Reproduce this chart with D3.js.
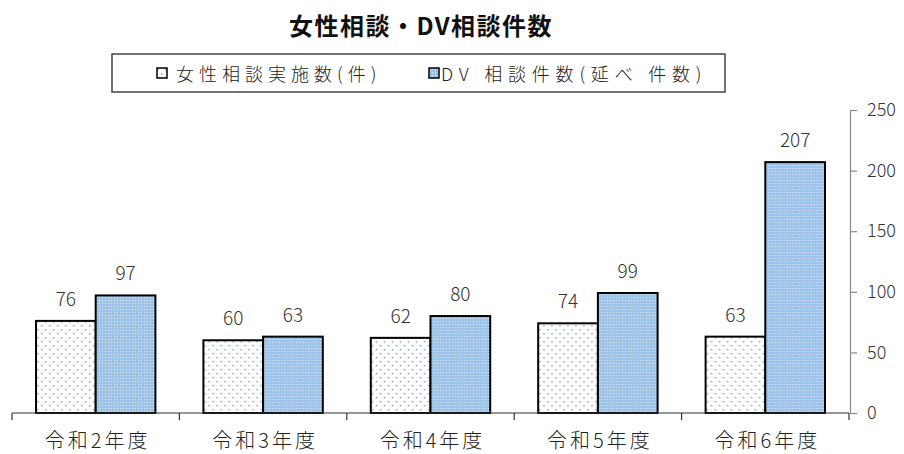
<!DOCTYPE html>
<html lang="ja">
<head>
<meta charset="utf-8" />
<title>女性相談・DV相談件数</title>
<script src="https://cdn.jsdelivr.net/npm/d3@7"></script>
<style>
  body { margin: 0; background: #fff; }
  text { font-family: "Noto Sans CJK JP", "Noto Sans", sans-serif; font-weight: 300; }
</style>
</head>
<body>
<div id="chart"></div>
<script type="text/javascript">
// data
var categories = ["令和2年度", "令和3年度", "令和4年度", "令和5年度", "令和6年度"];
var seriesNames = ["女性相談実施数(件)", "DV 相談件数(延べ 件数)"];
var womenCounts = [76, 60, 62, 74, 63];
var dvCounts = [97, 63, 80, 99, 207];
var yTicks = [0, 50, 100, 150, 200, 250];

var W = 904, H = 454;
var svg = d3.select("#chart").append("svg")
    .attr("width", W)
    .attr("height", H);

// fill patterns
var defs = svg.append("defs");
var p1 = defs.append("pattern")
    .attr("id", "dotsWhite")
    .attr("patternUnits", "userSpaceOnUse")
    .attr("width", 8).attr("height", 8);
p1.append("rect").attr("width", 8).attr("height", 8).attr("fill", "#ffffff");
p1.append("rect").attr("x", 1).attr("y", 1).attr("width", 1.5).attr("height", 1.5).attr("fill", "#7fa8d8");
p1.append("rect").attr("x", 5).attr("y", 5).attr("width", 1.5).attr("height", 1.5).attr("fill", "#7fa8d8");

var p2 = defs.append("pattern")
    .attr("id", "dotsBlue")
    .attr("patternUnits", "userSpaceOnUse")
    .attr("width", 3).attr("height", 3);
p2.append("rect").attr("width", 3).attr("height", 3).attr("fill", "#9ec3ea");
p2.append("rect").attr("x", 0).attr("y", 0).attr("width", 1).attr("height", 1).attr("fill", "#e6f0fb");

var fills = ["url(#dotsWhite)", "url(#dotsBlue)"];

// scales
var x = d3.scaleBand()
    .domain(categories)
    .range([12, 849])
    .paddingInner(0)
    .paddingOuter(0);

var xSub = d3.scaleBand()
    .domain([0, 1])
    .range([24, x.bandwidth() - 24]);

var y = d3.scaleLinear()
    .domain([0, 250])
    .range([413, 110]);

// title (style beats the css weight)
svg.append("text")
    .attr("x", 421)
    .attr("y", 35)
    .attr("text-anchor", "middle")
    .attr("font-size", 24)
    .attr("letter-spacing", 1.5)
    .attr("fill", "#111")
    .style("font-weight", "bold")
    .text("女性相談・DV相談件数");

// legend
svg.append("rect")
    .attr("x", 112).attr("y", 54)
    .attr("width", 613).attr("height", 38)
    .attr("fill", "#fff")
    .attr("stroke", "#444")
    .attr("stroke-width", 1.5);

var legendX = [157, 429];
var legendGap = [19, 12];
var legendSpacing = [5, 5.8];
seriesNames.forEach(function (name, i) {
  var lx = legendX[i];
  svg.append("rect")
      .attr("x", lx).attr("y", 68)
      .attr("width", 10).attr("height", 10)
      .attr("fill", fills[i])
      .attr("stroke", "#000")
      .attr("stroke-width", 1.5);
  svg.append("text")
      .attr("x", lx + legendGap[i])
      .attr("y", 81)
      .attr("font-size", 18)
      .attr("letter-spacing", legendSpacing[i])
      .attr("fill", "#222")
      .text(name);
});

// bars
var groups = svg.selectAll("g.cat")
    .data(categories)
    .enter().append("g")
    .attr("class", "cat")
    .attr("transform", function (d) { return "translate(" + x(d) + ",0)"; });

groups.each(function (d, i) {
  var g = d3.select(this);
  var vals = [womenCounts[i], dvCounts[i]];
  vals.forEach(function (v, j) {
    g.append("rect")
        .attr("x", xSub(j))
        .attr("y", y(v))
        .attr("width", xSub.bandwidth())
        .attr("height", y(0) - y(v))
        .attr("fill", fills[j])
        .attr("stroke", "#000")
        .attr("stroke-width", 2);
    g.append("text")
        .attr("x", xSub(j) + xSub.bandwidth() / 2)
        .attr("y", y(v) - 15)
        .attr("text-anchor", "middle")
        .attr("font-size", 19)
        .attr("fill", "#333")
        .text(v);
  });
});

// x axis
svg.append("line")
    .attr("x1", 12).attr("x2", 849)
    .attr("y1", 413).attr("y2", 413)
    .attr("stroke", "#333")
    .attr("stroke-width", 1.2);

var bounds = categories.map(function (c) { return x(c); }).concat([849]);
svg.selectAll("line.xtick")
    .data(bounds)
    .enter().append("line")
    .attr("class", "xtick")
    .attr("x1", function (d) { return d; })
    .attr("x2", function (d) { return d; })
    .attr("y1", 413).attr("y2", 420)
    .attr("stroke", "#333")
    .attr("stroke-width", 1.2);

svg.selectAll("text.xlab")
    .data(categories)
    .enter().append("text")
    .attr("class", "xlab")
    .attr("x", function (d) { return x(d) + x.bandwidth() / 2 + 2; })
    .attr("y", 448)
    .attr("text-anchor", "middle")
    .attr("font-size", 20)
    .attr("letter-spacing", 3)
    .attr("fill", "#222")
    .text(function (d) { return d; });

// right y axis
var yAxis = d3.axisRight(y)
    .tickValues(yTicks)
    .tickSize(7)
    .tickPadding(10)
    .tickFormat(d3.format("d"));

var ya = svg.append("g")
    .attr("transform", "translate(850,0)")
    .call(yAxis);
ya.select(".domain").attr("stroke", "#888").attr("stroke-width", 1.2);
ya.selectAll(".tick line").attr("stroke", "#888").attr("stroke-width", 1.2);
ya.selectAll(".tick text")
    .attr("font-size", 18)
    .attr("fill", "#333")
    .attr("font-family", "\"Noto Sans CJK JP\", sans-serif");
</script>
</body>
</html>
